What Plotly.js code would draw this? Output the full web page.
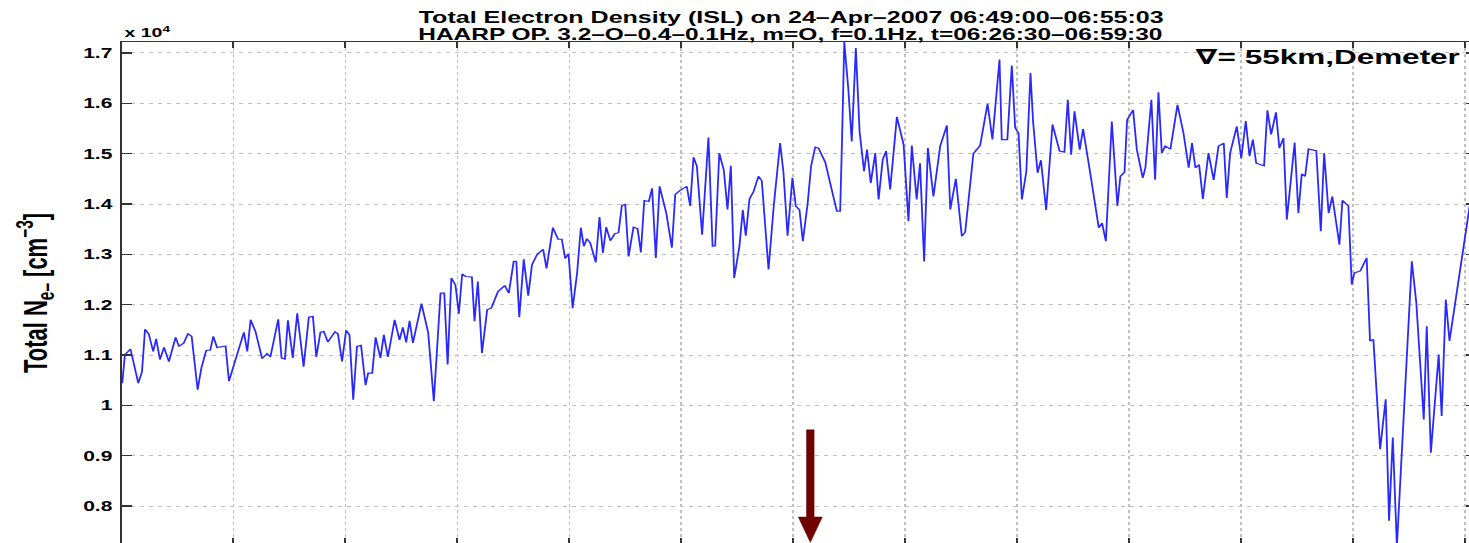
<!DOCTYPE html>
<html>
<head>
<meta charset="utf-8">
<script src="https://cdn.plot.ly/plotly-3.0.1.min.js"></script>
<style>
html,body{margin:0;padding:0;overflow:hidden;background:#fff;width:1469px;height:543px;}
#chart{width:1000px;height:560px;transform:scale(1.5,1);transform-origin:0 0;}
</style>
</head>
<body>
<div id="chart"></div>
<script>
// time since 06:49:00 (s)
const timeSec = [0.2,0.9,2.4,4.5,5.5,6.3,7.3,8.5,9.3,10.3,11.4,12.7,14.5,15.4,16.7,17.8,18.8,20.4,21.4,22.7,23.8,24.6,25.6,27.9,28.8,30.5,32.8,33.7,34.6,35.9,37.7,39.0,39.9,42.0,42.9,43.8,44.6,45.9,47.1,48.8,50.2,51.3,52.2,53.3,54.2,55.3,57.2,58.0,59.1,60.2,61.1,62.1,63.1,64.2,65.4,66.1,67.2,68.1,69.4,70.3,71.4,73.2,74.5,75.4,76.3,77.2,78.1,80.4,82.2,83.7,85.5,86.5,87.4,88.4,89.5,90.4,91.3,92.2,93.9,94.6,95.5,96.6,98.0,99.1,100.9,102.7,103.8,105.1,105.8,106.6,107.8,109.0,110.0,111.4,113.0,113.9,115.6,117.0,118.0,118.9,119.8,120.9,
122.1,123.1,123.9,124.7,125.6,127.1,128.1,129.0,129.9,131.0,132.2,133.2,134.1,135.0,135.9,137.2,138.3,139.2,140.1,141.3,142.2,143.2,144.2,146.0,147.5,148.4,149.7,151.5,152.4,153.3,154.2,155.6,157.3,158.4,159.1,160.2,161.4,162.4,163.3,164.2,165.6,166.5,167.3,168.3,169.4,170.7,171.6,173.4,174.8,176.5,177.4,178.5,179.8,180.7,181.7,182.6,183.9,184.8,185.9,186.8,188.6,191.7,192.6,193.1,193.7,194.8,195.7,196.8,197.8,199.0,199.8,200.8,202.0,202.9,204.0,204.9,206.0,207.8,209.6,210.9,211.8,213.1,214.0,215.1,216.1,217.6,219.4,221.2,222.1,223.6,225.2,226.1,228.3,230.1,232.1,233.4,235.3,235.9,237.4,238.6,239.5,240.4,
241.3,242.5,243.6,244.3,245.5,246.4,247.8,249.5,251.4,252.7,253.6,254.5,255.4,256.8,257.7,259.6,261.9,262.8,263.8,265.4,266.9,267.7,268.8,269.5,271.1,272.1,273.7,274.4,276.0,277.0,277.9,278.8,279.7,281.1,283.0,284.6,286.0,286.9,287.8,288.8,289.8,291.3,292.7,294.0,295.4,296.2,297.1,298.9,300.1,301.3,302.3,303.2,304.1,306.2,307.1,308.1,309.4,310.3,311.4,312.3,314.4,315.4,316.3,317.2,318.1,320.2,321.4,322.3,323.5,324.5,326.4,327.2,328.8,329.7,330.4,332.0,333.7,334.6,335.5,337.3,338.8,339.7,340.7,341.8,344.5,345.8,347.0,349.0,349.8,350.9,353.0,353.8,354.9,355.9,361.3,363.0];

// Total electron density, units of 10^4 cm^-3
const neTotal = [1.044,1.100,1.112,1.044,1.067,1.151,1.142,1.107,1.132,1.091,1.115,1.087,1.135,1.117,1.124,1.142,1.137,1.031,1.074,1.109,1.110,1.137,1.115,1.118,1.048,1.091,1.145,1.107,1.170,1.147,1.093,1.103,1.096,1.171,1.094,1.092,1.169,1.094,1.183,1.077,1.175,1.177,1.096,1.145,1.147,1.126,1.146,1.142,1.087,1.149,1.140,1.011,1.117,1.119,1.040,1.064,1.064,1.135,1.094,1.140,1.096,1.170,1.130,1.155,1.125,1.168,1.124,1.202,1.144,1.008,1.223,1.223,1.081,1.253,1.239,1.182,1.261,1.256,1.255,1.167,1.246,1.104,1.190,1.193,1.226,1.238,1.223,1.286,1.286,1.175,1.290,1.218,1.279,1.300,1.310,1.272,1.353,1.330,1.330,1.292,1.301,1.193,
1.263,1.353,1.316,1.331,1.323,1.284,1.374,1.303,1.354,1.327,1.341,1.343,1.397,1.399,1.296,1.354,1.351,1.304,1.407,1.405,1.431,1.293,1.435,1.382,1.313,1.419,1.427,1.435,1.396,1.493,1.475,1.339,1.532,1.316,1.317,1.501,1.468,1.389,1.476,1.253,1.316,1.388,1.337,1.410,1.425,1.455,1.446,1.270,1.396,1.521,1.463,1.337,1.452,1.396,1.388,1.326,1.402,1.475,1.513,1.511,1.483,1.386,1.386,1.528,1.722,1.627,1.524,1.710,1.544,1.465,1.508,1.442,1.501,1.409,1.488,1.505,1.429,1.573,1.518,1.366,1.516,1.409,1.481,1.286,1.511,1.415,1.515,1.556,1.389,1.450,1.336,1.344,1.500,1.516,1.599,1.528,1.687,1.528,1.528,1.675,1.551,1.541,
1.409,1.465,1.660,1.564,1.462,1.487,1.388,1.558,1.505,1.503,1.607,1.498,1.584,1.508,1.549,1.462,1.353,1.362,1.326,1.564,1.396,1.455,1.463,1.567,1.587,1.508,1.452,1.472,1.607,1.448,1.622,1.501,1.515,1.509,1.597,1.541,1.472,1.521,1.472,1.478,1.410,1.501,1.448,1.515,1.521,1.412,1.501,1.554,1.491,1.565,1.495,1.528,1.481,1.476,1.586,1.538,1.582,1.511,1.531,1.369,1.522,1.382,1.460,1.455,1.509,1.506,1.346,1.501,1.382,1.415,1.319,1.407,1.396,1.240,1.263,1.267,1.293,1.128,1.131,0.913,1.012,0.771,0.936,0.720,1.131,1.286,1.204,0.972,1.157,0.906,1.101,0.979,1.210,1.128,1.396,1.420];

const yTickVals = [0.8,0.9,1.0,1.1,1.2,1.3,1.4,1.5,1.6,1.7];
const yTickText = ['0.8','0.9','1','1.1','1.2','1.3','1.4','1.5','1.6','1.7'];
const xTickVals = [0,30,60,90,120,150,180,210,240,270,300,330,360];

const titleLine1 = 'Total Electron Density (ISL) on 24\u2013Apr\u20132007 06:49:00\u201306:55:03';
const titleLine2 = 'HAARP OP. 3.2\u2013O\u20130.4\u20130.1Hz, m=O, f=0.1Hz, t=06:26:30\u201306:59:30';
const infoLabel = '\u2207= 55km,Demeter';

// overpass marker arrow (time, tail value, head base value, tip value, head half-width in s)
const arrowT = 184.6, arrowTail = 0.952, arrowHeadBase = 0.778, arrowTip = 0.728, arrowHalf = 3.2;

const font = 'Liberation Sans, Arial, Helvetica, DejaVu Sans, sans-serif';
const narrowFont = 'Liberation Sans Narrow, Arial Narrow, Liberation Sans, sans-serif';
const titleX = 0.4944;

const trace = {
  x: timeSec, y: neTotal, type: 'scatter', mode: 'lines',
  line: {color: 'rgb(40,40,255)', width: 1.2}, hoverinfo: 'skip'
};

const layout = {
  width: 1000, height: 560,
  margin: {l: 80.7, r: 16, t: 42, b: 16},
  paper_bgcolor: '#fff', plot_bgcolor: '#fff',
  showlegend: false,
  title: {
    text: '<b>' + titleLine1 + '</b>',
    font: {family: font, size: 16.7, color: '#000'},
    x: titleX, xref: 'paper', xanchor: 'center',
    y: 1 - 17.5 / 560, yref: 'container', yanchor: 'middle'
  },
  xaxis: {
    range: [0, 363], tickvals: xTickVals, showticklabels: false,
    ticks: 'inside', ticklen: 6, tickwidth: 1.3, tickcolor: '#333',
    showline: true, linecolor: '#333', linewidth: 1.3, mirror: 'ticks',
    showgrid: true, gridcolor: '#c0c0c0', griddash: 'dot', gridwidth: 1,
    zeroline: false, fixedrange: true
  },
  yaxis: {
    range: [0.7246, 1.7218], tickvals: yTickVals, ticktext: yTickText,
    ticks: 'inside', ticklen: 7, tickwidth: 1.3, tickcolor: '#333',
    showline: true, linecolor: '#333', linewidth: 1.3, mirror: 'ticks',
    showgrid: true, gridcolor: '#c0c0c0', griddash: 'dot', gridwidth: 1,
    zeroline: false, fixedrange: true,
    tickfont: {family: font, size: 14, color: '#000', weight: 'bold'},
    ticklabelstandoff: 2,
    title: {
      text: '<b>Total N<sub>e\u2013</sub> [cm<sup>\u22123</sup>]</b>',
      font: {family: narrowFont, size: 22, color: '#000'},
      standoff: 17
    }
  },
  annotations: [
    {text: '<b>' + titleLine2 + '</b>', xref: 'paper', yref: 'paper', x: titleX, y: (544 - 34) / 502,
     xanchor: 'center', yanchor: 'middle', showarrow: false, font: {family: font, size: 16.3, color: '#000'}},
    {text: '<b>x 10<sup>4</sup></b>', xref: 'paper', yref: 'paper', x: 0, y: 1, xanchor: 'left', yanchor: 'bottom',
     yshift: 0, showarrow: false, font: {family: font, size: 13, color: '#000'}},
    {text: '<b>' + infoLabel + '</b>', xref: 'paper', yref: 'paper', x: 0.9895, y: 1, xanchor: 'right', yanchor: 'top',
     yshift: -1, showarrow: false, font: {family: font, size: 21, color: '#000'}}
  ],
  shapes: [
    {type: 'line', xref: 'x', yref: 'y', x0: arrowT, x1: arrowT, y0: arrowTail, y1: arrowHeadBase,
     line: {color: '#700000', width: 5.4}},
    {type: 'path', xref: 'x', yref: 'y',
     path: 'M' + (arrowT - arrowHalf) + ',' + arrowHeadBase + ' L' + (arrowT + arrowHalf) + ',' + arrowHeadBase + ' L' + arrowT + ',' + arrowTip + ' Z',
     fillcolor: '#700000', line: {color: '#700000', width: 0.5}}
  ]
};

Plotly.newPlot('chart', [trace], layout, {displayModeBar: false, staticPlot: true});
</script>
</body>
</html>
